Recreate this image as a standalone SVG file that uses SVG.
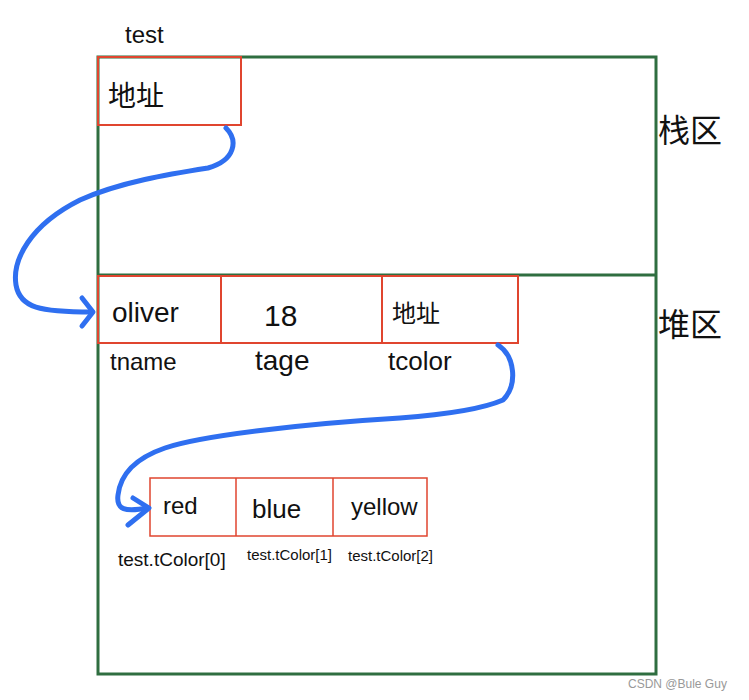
<svg xmlns="http://www.w3.org/2000/svg" width="749" height="700" viewBox="0 0 749 700">
<style>
.g{fill:none;stroke:#2f6e40;stroke-width:3}
.r{fill:none;stroke:#e0452f;stroke-width:2}
.r1{fill:none;stroke:#e0452f;stroke-width:1.5}
.t{font-family:"Liberation Sans","Noto Sans CJK SC",sans-serif;fill:#111}
.b{fill:none;stroke:#2f6ff0;stroke-width:5;stroke-linecap:round;stroke-linejoin:round}
</style>
<rect width="749" height="700" fill="#fff"/>
<g id="memory">
<rect class="g" x="98" y="57" width="558" height="617"/>
<line class="g" x1="98" y1="275" x2="656" y2="275"/>
<text class="t" x="125" y="43" font-size="24">test</text>
<text class="t" x="658" y="142" font-size="32">栈区</text>
<text class="t" x="658" y="336" font-size="32">堆区</text>
</g>
<g id="stack-addr">
<rect class="r" x="98" y="57" width="143" height="68"/>
<text class="t" x="108" y="106" font-size="28">地址</text>
</g>
<g id="heap-obj">
<rect class="r" x="98" y="276" width="420" height="67"/>
<line class="r" x1="221" y1="276" x2="221" y2="343"/>
<line class="r" x1="382" y1="276" x2="382" y2="343"/>
<text class="t" x="112" y="322" font-size="28">oliver</text>
<text class="t" x="264" y="326" font-size="30">18</text>
<text class="t" x="392" y="322" font-size="24">地址</text>
<text class="t" x="110" y="370" font-size="24">tname</text>
<text class="t" x="255" y="370" font-size="28">tage</text>
<text class="t" x="388" y="370" font-size="26">tcolor</text>
</g>
<g id="heap-array">
<rect class="r1" x="150" y="478" width="277" height="58"/>
<line class="r1" x1="236" y1="478" x2="236" y2="536"/>
<line class="r1" x1="333" y1="478" x2="333" y2="536"/>
<text class="t" x="163" y="514" font-size="24">red</text>
<text class="t" x="252" y="518" font-size="26">blue</text>
<text class="t" x="351" y="515" font-size="24">yellow</text>
<text class="t" x="118" y="566" font-size="19">test.tColor[0]</text>
<text class="t" x="247" y="560" font-size="15">test.tColor[1]</text>
<text class="t" x="348" y="561" font-size="15">test.tColor[2]</text>
</g>
<g id="connectors">
<path class="b" d="M226,128 C238,140 236,160 208,168 C170,174 120,182 80,200 C30,225 12,260 16,285 C20,308 40,312 92,312"/>
<path class="b" d="M82,298 L93,312 L82,326"/>
<path class="b" d="M498,345 C515,356 518,385 503,400 C480,410 440,415 400,418 C300,424 200,436 165,448 C130,460 120,478 118,495 C116,510 125,512 148,508"/>
<path class="b" d="M133,498 L149,508 L128,525"/>
</g>
<text x="628" y="688" font-family="Liberation Sans,sans-serif" font-size="12" fill="#999">CSDN @Bule Guy</text>
</svg>
